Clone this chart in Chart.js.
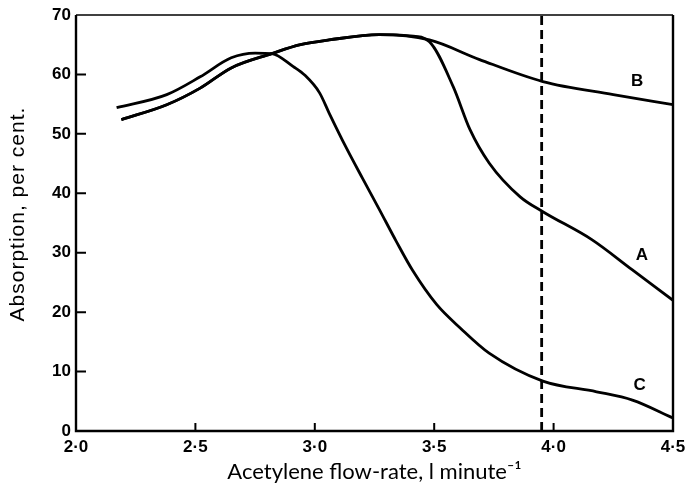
<!DOCTYPE html>
<html>
<head>
<meta charset="utf-8">
<script src="https://cdn.jsdelivr.net/npm/chart.js@4"></script>
<style>
	html, body { margin: 0; padding: 0; background: #fff; }
	#wrap { width: 687px; height: 489px; }
</style>
</head>
<body>
<div id="wrap"><canvas id="myChart" width="687" height="489"></canvas></div>
<script>
// curve A (splits from B near 3.45)
const aX = [2.19, 2.38, 2.52, 2.65, 2.82, 2.94, 3.06, 3.27, 3.40, 3.48, 3.58, 3.65, 3.73, 3.86, 3.955, 4.16, 4.33, 4.5];
const aY = [52.4, 54.9, 57.7, 61.1, 63.5, 65.0, 65.8, 66.7, 66.5, 65.5, 57.9, 50.7, 45.1, 39.4, 36.9, 32.2, 27.1, 22.0];

// curve B
const bX = [2.19, 2.38, 2.52, 2.65, 2.82, 2.94, 3.06, 3.27, 3.48, 3.69, 3.955, 4.25, 4.5];
const bY = [52.4, 54.9, 57.7, 61.1, 63.5, 65.0, 65.8, 66.7, 65.8, 62.5, 58.8, 56.6, 54.9];

// curve C
const cX = [2.17, 2.38, 2.52, 2.65, 2.75, 2.82, 2.91, 2.96, 3.02, 3.06, 3.13, 3.20, 3.27, 3.34, 3.41, 3.51, 3.61, 3.73, 3.955, 4.18, 4.33, 4.5];
const cY = [54.4, 56.6, 59.6, 62.8, 63.6, 63.5, 61.3, 59.8, 56.9, 53.5, 47.8, 42.5, 37.3, 32.0, 27.0, 21.3, 17.3, 13.1, 8.4, 6.6, 5.2, 2.2];

const xTicks = ["2·0", "2·5", "3·0", "3·5", "4·0", "4·5"];
const yTicks = ["0", "10", "20", "30", "40", "50", "60", "70"];

const dashedAt = 3.95;

const curveLabels = [
	{ text: "B", x: 4.35, y: 58.8 },
	{ text: "A", x: 4.37, y: 29.6 },
	{ text: "C", x: 4.36, y: 7.7 },
];

const xTitle = "Acetylene flow-rate, l minute⁻¹";
const yTitle = "Absorption, per cent.";

function pts(xs, ys) {
	return xs.map((x, i) => ({ x: x, y: ys[i] }));
}

function line(xs, ys) {
	return {
		data: pts(xs, ys),
		borderColor: "#000",
		borderWidth: 2.8,
		pointRadius: 0,
		fill: false,
		cubicInterpolationMode: "monotone",
	};
}

// inward ticks, frame, dashed line, titles and curve letters
const extras = {
	id: "extras",
	afterDatasetsDraw(chart) {
		const ctx = chart.ctx;
		const xs = chart.scales.x;
		const ys = chart.scales.y;
		const area = chart.chartArea;
		ctx.save();
		ctx.strokeStyle = "#000";
		ctx.lineWidth = 2;
		ctx.beginPath();
		for (let i = 1; i < yTicks.length - 1; i++) {
			const py = ys.getPixelForValue(i * 10);
			ctx.moveTo(area.left, py);
			ctx.lineTo(area.left + 10, py);
		}
		for (let i = 1; i < xTicks.length - 1; i++) {
			const px = xs.getPixelForValue(2 + i * 0.5);
			ctx.moveTo(px, area.bottom);
			ctx.lineTo(px, area.bottom - 8);
		}
		ctx.stroke();

		// frame: heavy left/bottom/right, thin top
		ctx.lineWidth = 2.4;
		ctx.beginPath();
		ctx.moveTo(area.left, area.top);
		ctx.lineTo(area.left, area.bottom);
		ctx.lineTo(area.right, area.bottom);
		ctx.lineTo(area.right, area.top);
		ctx.stroke();
		ctx.lineWidth = 1.5;
		ctx.beginPath();
		ctx.moveTo(area.left, area.top);
		ctx.lineTo(area.right, area.top);
		ctx.stroke();

		ctx.lineWidth = 2.8;
		ctx.setLineDash([9, 5]);
		const dx = xs.getPixelForValue(dashedAt);
		ctx.beginPath();
		ctx.moveTo(dx, ys.getPixelForValue(0));
		ctx.lineTo(dx, ys.getPixelForValue(70));
		ctx.stroke();
		ctx.setLineDash([]);

		ctx.fillStyle = "#000";
		ctx.font = "bold 17px 'Liberation Sans', Arial, sans-serif";
		ctx.textAlign = "center";
		ctx.textBaseline = "middle";
		curveLabels.forEach(l => {
			ctx.fillText(l.text, xs.getPixelForValue(l.x), ys.getPixelForValue(l.y));
		});

		ctx.textBaseline = "alphabetic";
		ctx.font = "22px Lato, 'Open Sans', sans-serif";
		ctx.fillText(xTitle, (area.left + area.right) / 2, 479);

		ctx.textBaseline = "middle";
		ctx.translate(18, ys.getPixelForValue(36.5));
		ctx.rotate(-Math.PI / 2);
		ctx.font = "21px 'Liberation Sans', Arial, sans-serif";
		ctx.letterSpacing = "1px";
		ctx.fillText(yTitle, 0, 0);
		ctx.restore();
	},
};

new Chart("myChart", {
	type: "line",
	data: {
		datasets: [line(aX, aY), line(bX, bY), line(cX, cY)],
	},
	options: {
		responsive: false,
		animation: false,
		layout: { padding: { top: 15, right: 14, left: 0, bottom: 0 } },
		plugins: { legend: { display: false }, tooltip: { enabled: false } },
		scales: {
			x: {
				type: "linear",
				min: 2,
				max: 4.5,
				grid: { display: false, drawTicks: false },
				border: { display: false },
				ticks: {
					stepSize: 0.5,
					padding: 6,
					color: "#000",
					maxRotation: 0,
					font: { family: "'Liberation Sans', Arial, sans-serif", size: 17, weight: "bold" },
					callback: (v) => xTicks[Math.round((v - 2) / 0.5)],
				},
				afterFit: (s) => { s.height = 58; s.paddingLeft = 0; s.paddingRight = 0; },
			},
			y: {
				min: 0,
				max: 70,
				grid: { display: false, drawTicks: false },
				border: { display: false },
				ticks: {
					stepSize: 10,
					padding: 5,
					color: "#000",
					font: { family: "'Liberation Sans', Arial, sans-serif", size: 17, weight: "bold" },
					callback: (v) => yTicks[Math.round(v / 10)],
				},
				afterFit: (s) => { s.width = 76; s.paddingTop = 0; s.paddingBottom = 0; },
			},
		},
	},
	plugins: [extras],
});
</script>
</body>
</html>
